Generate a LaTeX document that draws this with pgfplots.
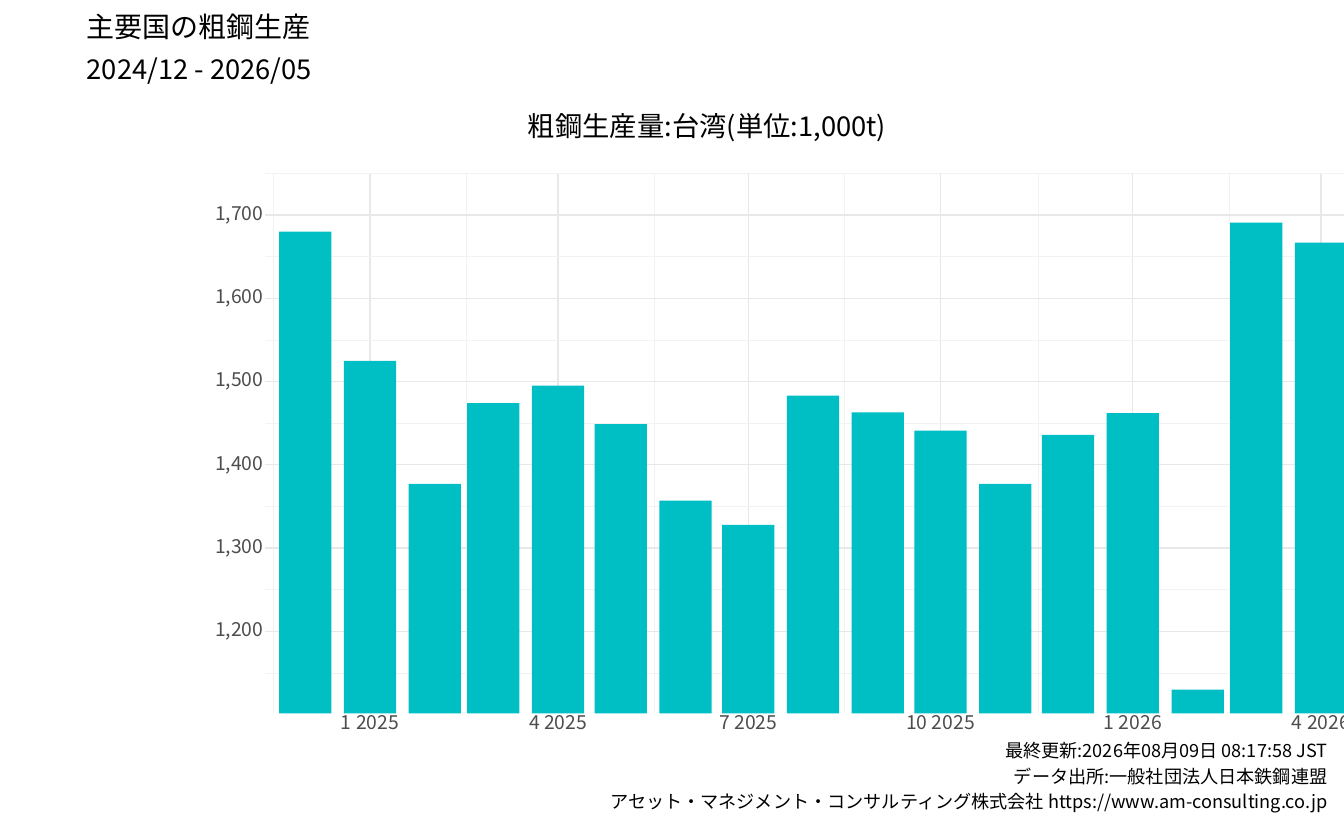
\documentclass[border=0pt]{standalone}
\usepackage{pgfplots}
\pgfplotsset{compat=1.18}
\usepackage{fontspec}
\setmainfont{Noto Sans CJK JP}
\definecolor{barc}{HTML}{00BFC4}
\definecolor{tickc}{HTML}{4D4D4D}
\begin{document}
\begin{tikzpicture}[x=0.75pt,y=0.75pt]
\path[use as bounding box] (0,0) rectangle (1344,830);
\begin{axis}[at={(127,140)},anchor=south west,scale only axis,
  width=870pt,height=405pt,
  xmin=-50,xmax=505,ymin=1101.4,ymax=1750,
  axis line style={draw=none},tick style={draw=none},
  xtick={0,90,181,273,365,455},
  xticklabels={1 2025,4 2025,7 2025,10 2025,1 2026,4 2026},
  minor xtick={-46,46,136,227,320,411,503},
  ytick={1200,1300,1400,1500,1600,1700},
  minor ytick={1150,1250,1350,1450,1550,1650,1750},
  yticklabels={{1,200},{1,300},{1,400},{1,500},{1,600},{1,700}},
  grid=both,
  major grid style={draw=black!9,line width=0.9pt},
  minor grid style={draw=black!5,line width=0.6pt},
  ticklabel style={font=\fontsize{14.5}{16}\selectfont,text=tickc},
  /pgf/number format/assume math mode=true,
  xticklabel style={yshift=2pt},
  yticklabel style={xshift=2pt},
  clip=false]
\addplot[ybar,bar width=25,fill=barc,draw=none] coordinates {
(-31,1680)(0,1525)(31,1377)(59,1474)(90,1495)(120,1449)(151,1357)(181,1328)
(212,1483)(243,1463)(273,1441)(304,1377)(334,1436)(365,1462)(396,1130)
(424,1691)(455,1667)(485,1721)};
\end{axis}
\node[anchor=west,font=\fontsize{21}{24}\selectfont] at (82,803) {主要国の粗鋼生産};
\node[anchor=west,font=\fontsize{20.5}{24}\selectfont] at (82,759) {2024/12 - 2026/05};
\node[font=\fontsize{20.5}{24}\selectfont] at (707,702) {粗鋼生産量:台湾(単位:1,000t)};
\node[anchor=east,font=\fontsize{13.6}{15}\selectfont] at (1332,79) {最終更新:2026年08月09日 08:17:58 JST};
\node[anchor=east,font=\fontsize{13.6}{15}\selectfont] at (1332,53) {データ出所:一般社団法人日本鉄鋼連盟};
\node[anchor=east,font=\fontsize{13.6}{15}\selectfont] at (1332,27) {アセット・マネジメント・コンサルティング株式会社 https://www.am-consulting.co.jp};
\end{tikzpicture}
\end{document}
